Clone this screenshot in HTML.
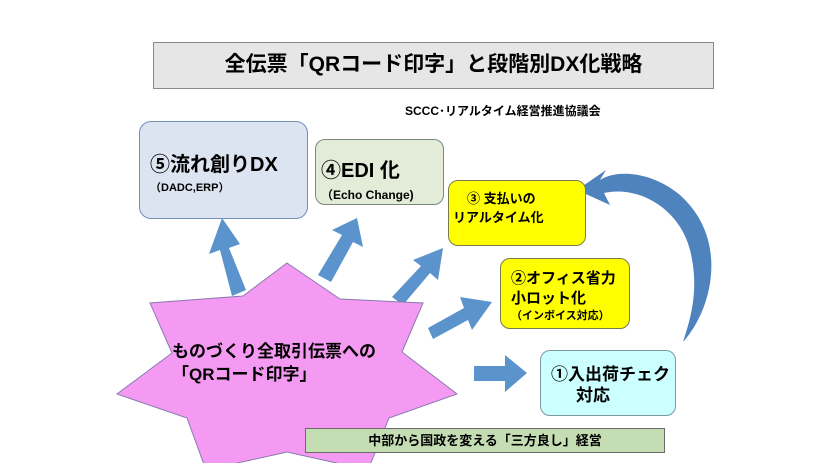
<!DOCTYPE html>
<html><head><meta charset="utf-8"><style>
body{margin:0;width:823px;height:463px;background:#fff;overflow:hidden;font-family:"Liberation Sans","Noto Sans CJK JP",sans-serif;font-weight:bold;position:relative}
.b{position:absolute;box-sizing:border-box}
</style></head><body>
<svg width="823" height="463" style="position:absolute;left:0;top:0">
<g fill="#5b93cc">
<polygon points="232,296 246,290 229,248 240,244 222,218 209,254 220,250"/>
<polygon points="318,275 331,282 353,242 363,247 357,218 332,230 342,235"/>
<polygon points="392,297 403,305 430,273 438,280 443,248 413,260 421,266"/>
<polygon points="428,328 433,339 468,320 472,330 492,302 460,297 464,308"/>
<polygon points="474,366 474,381 505,381 505,392 527,373 505,355 505,366"/>
<path d="M683,342 C712,310 730,240 680,195 C650,170 615,170 600,180 L606,170 L577,190 L610,205 L604,193 C640,185 680,210 690,250 C700,290 690,320 683,342 Z" fill="#4f83bd"/>
</g>
<polygon points="287,263 340,299 423,303 402,352 457,394 389,418 368,470 287,452 206,470 187,418 117,394 172,353 150,303 243,296" fill="#f59af2" stroke="#8a7ab0" stroke-width="1"/>
</svg>
<div class="b" style="left:153px;top:42px;width:561px;height:47px;background:#e6e6e6;border:1.5px solid #8a8a8a;font-size:21px;text-align:center;line-height:44px">全伝票「QRコード印字」と段階別DX化戦略</div>
<div class="b" style="left:405px;top:102px;font-size:12px;white-space:nowrap">SCCC･リアルタイム経営推進協議会</div>
<div class="b" style="left:139px;top:121px;width:169px;height:98px;background:#dce3f1;border:1px solid #7090b8;border-radius:12px;padding:26px 0 0 10px"><div style="font-size:20px">⑤流れ創りDX</div><div style="font-size:11px;margin-top:2px">（DADC,ERP）</div></div>
<div class="b" style="left:315px;top:139px;width:129px;height:66px;background:#e2ecd9;border:1px solid #7a8a7a;border-radius:10px;padding:20px 0 0 5px"><div style="font-size:20px;line-height:22px">④EDI 化</div><div style="font-size:12px;margin-top:4px">（Echo Change)</div></div>
<div class="b" style="left:448px;top:180px;width:138px;height:66px;background:#ffff00;border:1px solid #7a7a4a;border-radius:10px;padding:8px 0 0 4px;font-size:13px;line-height:19px"><div style="padding-left:14px">③ 支払いの</div><div>リアルタイム化</div></div>
<div class="b" style="left:500px;top:258px;width:130px;height:71px;background:#ffff00;border:1px solid #7a7a4a;border-radius:10px;padding:10px 0 0 10px;font-size:15px;line-height:20px"><div>②オフィス省力</div><div>小ロット化</div><div style="font-size:11px;line-height:14px">（インボイス対応）</div></div>
<div class="b" style="left:540px;top:350px;width:136px;height:66px;background:#ccffff;border:1px solid #7a9aa0;border-radius:10px;padding:13px 0 0 10px;font-size:17px;line-height:21px"><div>①入出荷チェク</div><div style="padding-left:25px">対応</div></div>
<div class="b" style="left:172px;top:340px;font-size:17px;line-height:23px;white-space:nowrap"><div>ものづくり全取引伝票への</div><div>「QRコード印字」</div></div>
<div class="b" style="left:305px;top:428px;width:360px;height:25px;background:#c5ddb3;border:1px solid #6a6a6a;font-size:13px;text-align:center;line-height:23px">中部から国政を変える「三方良し」経営</div>
</body></html>
